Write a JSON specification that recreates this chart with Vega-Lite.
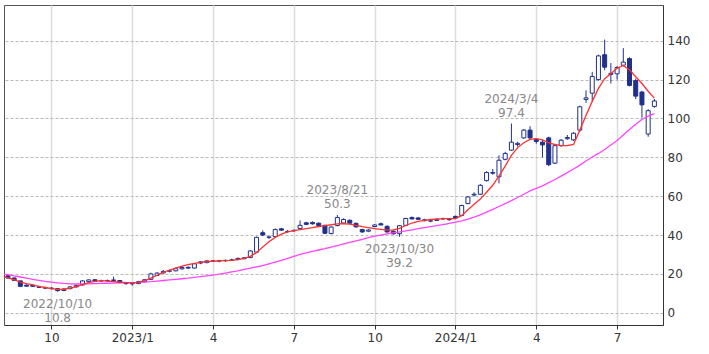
{
 "$schema": "https://vega.github.io/schema/vega-lite/v6.json",
 "width": 659,
 "height": 320,
 "autosize": {"type": "none"},
 "padding": {"left": 4, "top": 5, "right": 46, "bottom": 29},
 "background": "white",
 "config": {
  "font": "DejaVu Sans",
  "view": {"stroke": "#555", "strokeWidth": 1},
  "axis": {"labelFont": "DejaVu Sans", "labelFontSize": 12, "labelColor": "#333", "domainColor": "#333"}
 },
 "datasets": {
  "candles": [
   {"d":"2022-08-15","o":19.0,"h":19.4,"l":17.6,"c":17.9},
   {"d":"2022-08-22","o":17.9,"h":18.2,"l":16.4,"c":16.7},
   {"d":"2022-08-29","o":16.4,"h":16.6,"l":13.2,"c":13.6},
   {"d":"2022-09-05","o":14.2,"h":14.6,"l":13.4,"c":13.7},
   {"d":"2022-09-12","o":14.1,"h":14.5,"l":13.3,"c":13.6},
   {"d":"2022-09-19","o":13.3,"h":13.9,"l":12.7,"c":13.1},
   {"d":"2022-09-26","o":12.9,"h":13.4,"l":12.2,"c":12.7},
   {"d":"2022-10-03","o":12.7,"h":13.2,"l":12.0,"c":12.4},
   {"d":"2022-10-10","o":12.4,"h":12.6,"l":10.8,"c":11.4},
   {"d":"2022-10-17","o":12.2,"h":12.6,"l":11.1,"c":11.5},
   {"d":"2022-10-24","o":12.4,"h":13.6,"l":12.1,"c":13.3},
   {"d":"2022-10-31","o":13.3,"h":14.4,"l":13.0,"c":14.1},
   {"d":"2022-11-07","o":14.3,"h":16.8,"l":14.1,"c":16.4},
   {"d":"2022-11-14","o":16.0,"h":17.2,"l":15.8,"c":16.9},
   {"d":"2022-11-21","o":17.0,"h":17.2,"l":16.0,"c":16.3},
   {"d":"2022-11-28","o":16.4,"h":17.0,"l":16.0,"c":16.5},
   {"d":"2022-12-05","o":16.5,"h":17.1,"l":16.0,"c":16.6},
   {"d":"2022-12-12","o":16.6,"h":18.6,"l":16.3,"c":16.9},
   {"d":"2022-12-19","o":16.6,"h":16.8,"l":15.2,"c":15.5},
   {"d":"2022-12-26","o":15.4,"h":15.9,"l":14.4,"c":15.0},
   {"d":"2023-01-02","o":15.1,"h":15.5,"l":13.9,"c":14.9},
   {"d":"2023-01-09","o":15.0,"h":16.4,"l":14.8,"c":16.0},
   {"d":"2023-01-16","o":16.0,"h":17.3,"l":15.8,"c":17.0},
   {"d":"2023-01-23","o":17.2,"h":20.6,"l":17.0,"c":20.0},
   {"d":"2023-01-30","o":19.2,"h":20.9,"l":18.9,"c":20.4},
   {"d":"2023-02-06","o":20.5,"h":22.0,"l":20.2,"c":21.3},
   {"d":"2023-02-13","o":21.4,"h":22.2,"l":20.8,"c":21.6},
   {"d":"2023-02-20","o":21.6,"h":23.4,"l":21.3,"c":22.7},
   {"d":"2023-02-27","o":22.6,"h":23.8,"l":22.2,"c":23.3},
   {"d":"2023-03-06","o":23.4,"h":23.8,"l":22.6,"c":23.0},
   {"d":"2023-03-13","o":23.0,"h":25.6,"l":22.8,"c":25.2},
   {"d":"2023-03-20","o":26.2,"h":26.6,"l":25.0,"c":25.6},
   {"d":"2023-03-27","o":25.8,"h":27.0,"l":25.5,"c":26.7},
   {"d":"2023-04-03","o":26.7,"h":27.2,"l":26.1,"c":26.6},
   {"d":"2023-04-10","o":26.6,"h":27.2,"l":26.0,"c":26.8},
   {"d":"2023-04-17","o":26.8,"h":27.3,"l":26.2,"c":27.0},
   {"d":"2023-04-24","o":27.0,"h":27.8,"l":26.6,"c":27.2},
   {"d":"2023-05-01","o":27.4,"h":28.4,"l":27.0,"c":28.0},
   {"d":"2023-05-08","o":27.8,"h":28.7,"l":27.5,"c":28.3},
   {"d":"2023-05-15","o":28.4,"h":32.3,"l":28.1,"c":31.8},
   {"d":"2023-05-22","o":31.2,"h":39.2,"l":30.8,"c":38.8},
   {"d":"2023-05-29","o":41.2,"h":42.4,"l":39.4,"c":40.0},
   {"d":"2023-06-05","o":38.8,"h":39.8,"l":38.0,"c":39.0},
   {"d":"2023-06-12","o":39.2,"h":43.4,"l":38.9,"c":42.8},
   {"d":"2023-06-19","o":43.2,"h":43.7,"l":42.2,"c":42.5},
   {"d":"2023-06-26","o":41.9,"h":42.6,"l":41.2,"c":41.8},
   {"d":"2023-07-03","o":42.2,"h":42.9,"l":41.6,"c":42.4},
   {"d":"2023-07-10","o":43.4,"h":47.5,"l":43.1,"c":45.0},
   {"d":"2023-07-17","o":46.3,"h":46.8,"l":45.2,"c":45.5},
   {"d":"2023-07-24","o":46.5,"h":47.0,"l":45.4,"c":45.8},
   {"d":"2023-07-31","o":46.1,"h":46.5,"l":44.5,"c":44.9},
   {"d":"2023-08-07","o":45.0,"h":45.3,"l":40.5,"c":40.9},
   {"d":"2023-08-14","o":40.8,"h":44.5,"l":40.4,"c":44.1},
   {"d":"2023-08-21","o":44.9,"h":50.3,"l":44.5,"c":49.0},
   {"d":"2023-08-28","o":46.2,"h":48.6,"l":45.8,"c":48.0},
   {"d":"2023-09-04","o":47.6,"h":48.0,"l":45.8,"c":46.1},
   {"d":"2023-09-11","o":46.0,"h":46.4,"l":43.8,"c":44.2},
   {"d":"2023-09-18","o":42.8,"h":43.2,"l":41.2,"c":41.6},
   {"d":"2023-09-25","o":42.0,"h":43.0,"l":41.5,"c":42.6},
   {"d":"2023-10-02","o":44.4,"h":45.6,"l":44.0,"c":45.2},
   {"d":"2023-10-09","o":45.8,"h":46.4,"l":45.0,"c":45.2},
   {"d":"2023-10-16","o":44.5,"h":44.9,"l":41.2,"c":41.6},
   {"d":"2023-10-23","o":41.9,"h":42.2,"l":40.3,"c":40.6},
   {"d":"2023-10-30","o":40.7,"h":45.1,"l":39.2,"c":44.8},
   {"d":"2023-11-06","o":45.0,"h":48.9,"l":44.7,"c":48.5},
   {"d":"2023-11-13","o":49.0,"h":49.6,"l":48.0,"c":48.3},
   {"d":"2023-11-20","o":48.8,"h":49.3,"l":47.8,"c":48.1},
   {"d":"2023-11-27","o":47.8,"h":48.4,"l":47.0,"c":47.4},
   {"d":"2023-12-04","o":47.2,"h":47.9,"l":46.6,"c":47.3},
   {"d":"2023-12-11","o":47.5,"h":48.6,"l":47.2,"c":48.2},
   {"d":"2023-12-18","o":48.3,"h":49.0,"l":47.8,"c":48.5},
   {"d":"2023-12-25","o":48.0,"h":48.6,"l":47.4,"c":47.9},
   {"d":"2024-01-01","o":49.6,"h":50.0,"l":48.2,"c":48.8},
   {"d":"2024-01-08","o":50.1,"h":55.6,"l":49.8,"c":55.2},
   {"d":"2024-01-15","o":56.2,"h":60.0,"l":55.9,"c":59.6},
   {"d":"2024-01-22","o":60.6,"h":62.0,"l":59.8,"c":61.0},
   {"d":"2024-01-29","o":61.0,"h":66.2,"l":60.6,"c":65.6},
   {"d":"2024-02-05","o":68.0,"h":72.8,"l":67.5,"c":72.2},
   {"d":"2024-02-12","o":71.8,"h":74.0,"l":71.0,"c":72.2},
   {"d":"2024-02-19","o":70.0,"h":81.0,"l":66.6,"c":78.5},
   {"d":"2024-02-26","o":79.0,"h":82.8,"l":78.5,"c":82.0},
   {"d":"2024-03-04","o":83.7,"h":97.4,"l":83.4,"c":87.8},
   {"d":"2024-03-11","o":86.6,"h":88.0,"l":85.5,"c":87.2},
   {"d":"2024-03-18","o":90.0,"h":94.6,"l":89.6,"c":94.0},
   {"d":"2024-03-25","o":94.0,"h":96.0,"l":89.5,"c":90.0},
   {"d":"2024-04-01","o":89.2,"h":89.8,"l":87.0,"c":88.2},
   {"d":"2024-04-08","o":87.8,"h":89.0,"l":80.0,"c":86.4},
   {"d":"2024-04-15","o":90.0,"h":90.6,"l":75.5,"c":76.2},
   {"d":"2024-04-22","o":77.0,"h":86.4,"l":76.5,"c":86.0},
   {"d":"2024-04-29","o":86.0,"h":89.4,"l":85.5,"c":88.8},
   {"d":"2024-05-06","o":89.6,"h":91.5,"l":89.0,"c":90.2},
   {"d":"2024-05-13","o":89.0,"h":93.0,"l":88.4,"c":92.4},
   {"d":"2024-05-20","o":94.0,"h":106.6,"l":93.0,"c":106.0},
   {"d":"2024-05-27","o":109.8,"h":114.5,"l":108.0,"c":110.6},
   {"d":"2024-06-03","o":113.0,"h":124.0,"l":109.0,"c":121.6},
   {"d":"2024-06-10","o":120.0,"h":132.8,"l":119.5,"c":132.2},
   {"d":"2024-06-17","o":132.8,"h":140.6,"l":124.8,"c":126.4},
   {"d":"2024-06-24","o":122.6,"h":128.5,"l":118.0,"c":123.2},
   {"d":"2024-07-01","o":123.0,"h":127.0,"l":120.0,"c":126.2},
   {"d":"2024-07-08","o":127.4,"h":136.2,"l":126.8,"c":129.0},
   {"d":"2024-07-15","o":130.8,"h":131.5,"l":116.5,"c":117.0},
   {"d":"2024-07-22","o":119.5,"h":120.5,"l":110.0,"c":111.5},
   {"d":"2024-07-29","o":113.6,"h":114.2,"l":100.4,"c":107.0},
   {"d":"2024-08-05","o":92.0,"h":104.8,"l":90.6,"c":104.0},
   {"d":"2024-08-12","o":106.2,"h":110.0,"l":105.5,"c":109.0}
  ],
  "ma": [
   {"d":"2022-08-08","m13":18.8,"m26":20.1},
   {"d":"2022-08-15","m13":18.0,"m26":19.6},
   {"d":"2022-08-22","m13":17.0,"m26":19.0},
   {"d":"2022-08-29","m13":15.8,"m26":18.4},
   {"d":"2022-09-05","m13":15.0,"m26":17.8},
   {"d":"2022-09-12","m13":14.3,"m26":17.2},
   {"d":"2022-09-19","m13":13.6,"m26":16.7},
   {"d":"2022-09-26","m13":13.0,"m26":16.2},
   {"d":"2022-10-03","m13":12.4,"m26":15.8},
   {"d":"2022-10-10","m13":12.0,"m26":15.4},
   {"d":"2022-10-17","m13":12.1,"m26":15.1},
   {"d":"2022-10-24","m13":12.7,"m26":14.9},
   {"d":"2022-10-31","m13":13.5,"m26":14.8},
   {"d":"2022-11-07","m13":14.5,"m26":14.8},
   {"d":"2022-11-14","m13":15.5,"m26":14.9},
   {"d":"2022-11-21","m13":16.2,"m26":15.0},
   {"d":"2022-11-28","m13":16.5,"m26":15.1},
   {"d":"2022-12-05","m13":16.3,"m26":15.2},
   {"d":"2022-12-12","m13":16.0,"m26":15.3},
   {"d":"2022-12-19","m13":15.7,"m26":15.4},
   {"d":"2022-12-26","m13":15.5,"m26":15.5},
   {"d":"2023-01-02","m13":15.4,"m26":15.5},
   {"d":"2023-01-09","m13":15.6,"m26":15.6},
   {"d":"2023-01-16","m13":16.6,"m26":15.8},
   {"d":"2023-01-23","m13":17.8,"m26":16.0},
   {"d":"2023-01-30","m13":19.3,"m26":16.3},
   {"d":"2023-02-06","m13":20.8,"m26":16.6},
   {"d":"2023-02-13","m13":22.0,"m26":16.9},
   {"d":"2023-02-20","m13":23.0,"m26":17.2},
   {"d":"2023-02-27","m13":24.0,"m26":17.5},
   {"d":"2023-03-06","m13":24.8,"m26":17.8},
   {"d":"2023-03-13","m13":25.4,"m26":18.2},
   {"d":"2023-03-20","m13":25.9,"m26":18.6},
   {"d":"2023-03-27","m13":26.3,"m26":19.0},
   {"d":"2023-04-03","m13":26.5,"m26":19.4},
   {"d":"2023-04-10","m13":26.7,"m26":19.9},
   {"d":"2023-04-17","m13":26.8,"m26":20.4},
   {"d":"2023-04-24","m13":27.0,"m26":21.0},
   {"d":"2023-05-01","m13":27.4,"m26":21.6},
   {"d":"2023-05-08","m13":28.0,"m26":22.3},
   {"d":"2023-05-15","m13":29.0,"m26":23.0},
   {"d":"2023-05-22","m13":31.0,"m26":23.6},
   {"d":"2023-05-29","m13":33.8,"m26":24.2},
   {"d":"2023-06-05","m13":36.5,"m26":25.1},
   {"d":"2023-06-12","m13":38.8,"m26":26.0},
   {"d":"2023-06-19","m13":40.5,"m26":27.0},
   {"d":"2023-06-26","m13":41.6,"m26":28.0},
   {"d":"2023-07-03","m13":42.3,"m26":29.0},
   {"d":"2023-07-10","m13":42.8,"m26":30.0},
   {"d":"2023-07-17","m13":43.3,"m26":30.8},
   {"d":"2023-07-24","m13":43.8,"m26":31.6},
   {"d":"2023-07-31","m13":44.4,"m26":32.3},
   {"d":"2023-08-07","m13":44.9,"m26":33.0},
   {"d":"2023-08-14","m13":45.3,"m26":33.8},
   {"d":"2023-08-21","m13":45.7,"m26":34.6},
   {"d":"2023-08-28","m13":45.8,"m26":35.4},
   {"d":"2023-09-04","m13":45.6,"m26":36.2},
   {"d":"2023-09-11","m13":45.0,"m26":37.0},
   {"d":"2023-09-18","m13":44.3,"m26":37.8},
   {"d":"2023-09-25","m13":43.8,"m26":38.7},
   {"d":"2023-10-02","m13":43.3,"m26":39.4},
   {"d":"2023-10-09","m13":42.9,"m26":40.0},
   {"d":"2023-10-16","m13":42.5,"m26":40.6},
   {"d":"2023-10-23","m13":42.6,"m26":41.1},
   {"d":"2023-10-30","m13":43.4,"m26":41.6},
   {"d":"2023-11-06","m13":44.9,"m26":42.2},
   {"d":"2023-11-13","m13":46.2,"m26":42.7},
   {"d":"2023-11-20","m13":47.0,"m26":43.3},
   {"d":"2023-11-27","m13":47.6,"m26":43.8},
   {"d":"2023-12-04","m13":48.0,"m26":44.3},
   {"d":"2023-12-11","m13":48.2,"m26":44.8},
   {"d":"2023-12-18","m13":48.4,"m26":45.4},
   {"d":"2023-12-25","m13":48.4,"m26":46.0},
   {"d":"2024-01-01","m13":48.5,"m26":46.6},
   {"d":"2024-01-08","m13":50.0,"m26":47.3},
   {"d":"2024-01-15","m13":53.0,"m26":48.2},
   {"d":"2024-01-22","m13":55.8,"m26":49.2},
   {"d":"2024-01-29","m13":58.5,"m26":50.4},
   {"d":"2024-02-05","m13":62.0,"m26":51.8},
   {"d":"2024-02-12","m13":65.6,"m26":53.2},
   {"d":"2024-02-19","m13":70.5,"m26":54.7},
   {"d":"2024-02-26","m13":75.5,"m26":56.2},
   {"d":"2024-03-04","m13":81.0,"m26":57.7},
   {"d":"2024-03-11","m13":85.0,"m26":59.3},
   {"d":"2024-03-18","m13":87.5,"m26":61.0},
   {"d":"2024-03-25","m13":89.2,"m26":62.7},
   {"d":"2024-04-01","m13":89.6,"m26":64.0},
   {"d":"2024-04-08","m13":89.0,"m26":65.3},
   {"d":"2024-04-15","m13":87.6,"m26":67.0},
   {"d":"2024-04-22","m13":86.6,"m26":68.6},
   {"d":"2024-04-29","m13":86.0,"m26":70.3},
   {"d":"2024-05-06","m13":86.0,"m26":72.1},
   {"d":"2024-05-13","m13":86.6,"m26":74.0},
   {"d":"2024-05-20","m13":94.0,"m26":76.0},
   {"d":"2024-05-27","m13":101.5,"m26":78.1},
   {"d":"2024-06-03","m13":108.8,"m26":80.2},
   {"d":"2024-06-10","m13":115.5,"m26":82.0},
   {"d":"2024-06-17","m13":120.5,"m26":84.0},
   {"d":"2024-06-24","m13":123.0,"m26":86.3},
   {"d":"2024-07-01","m13":125.8,"m26":88.7},
   {"d":"2024-07-08","m13":127.3,"m26":91.5},
   {"d":"2024-07-15","m13":125.0,"m26":94.3},
   {"d":"2024-07-22","m13":121.5,"m26":97.0},
   {"d":"2024-07-29","m13":118.0,"m26":99.5},
   {"d":"2024-08-05","m13":114.0,"m26":101.2},
   {"d":"2024-08-12","m13":110.5,"m26":102.5}
  ],
  "notes": [
   {"d":"2022-10-10","v":10.8,"t":"2022/10/10\n10.8","p":"lo"},
   {"d":"2023-08-21","v":50.3,"t":"2023/8/21\n50.3","p":"hi"},
   {"d":"2023-10-30","v":39.2,"t":"2023/10/30\n39.2","p":"lo"},
   {"d":"2024-03-04","v":97.4,"t":"2024/3/4\n97.4","p":"hi"}
  ]
 },
 "layer": [
  {
   "data": {"name": "candles"},
   "mark": {"type": "rule", "color": "#20308c", "strokeWidth": 1},
   "encoding": {
    "x": {"field": "d", "type": "temporal", "title": null,
     "scale": {"type": "utc", "padding": 0, "domain": [{"year":2022,"month":8,"date":10,"hours":14,"utc":true},{"year":2024,"month":8,"date":21,"hours":17,"utc":true}]},
     "axis": {"values": [{"year":2022,"month":10,"date":3,"utc":true},{"year":2023,"month":1,"date":2,"utc":true},{"year":2023,"month":4,"date":3,"utc":true},{"year":2023,"month":7,"date":3,"utc":true},{"year":2023,"month":10,"date":2,"utc":true},{"year":2024,"month":1,"date":1,"utc":true},{"year":2024,"month":4,"date":1,"utc":true},{"year":2024,"month":7,"date":1,"utc":true}],
      "labelExpr": "utcmonth(datum.value) == 0 ? utcyear(datum.value) + '/1' : '' + (utcmonth(datum.value) + 1)",
      "grid": true, "gridColor": "#dcdcdc", "gridWidth": 1.5, "tickColor": "#333", "tickSize": 4, "labelPadding": 3, "labelFlush": false, "labelOverlap": false}},
    "y": {"field": "l", "type": "quantitative", "title": null,
     "scale": {"domain": [-6.3, 158.4], "nice": false, "zero": false, "padding": 0},
     "axis": {"orient": "right", "values": [0,20,40,60,80,100,120,140], "grid": true, "gridColor": "#b8b8b8", "gridDash": [3,2], "ticks": false, "labelPadding": 4}},
    "y2": {"field": "h"}
   }
  },
  {
   "data": {"name": "candles"},
   "mark": {"type": "bar", "size": 4, "stroke": "#20308c", "strokeWidth": 1},
   "encoding": {
    "x": {"field": "d", "type": "temporal"},
    "y": {"field": "o", "type": "quantitative", "title": null},
    "y2": {"field": "c"},
    "fill": {"condition": {"test": "datum.c > datum.o", "value": "white"}, "value": "#20308c"}
   }
  },
  {
   "data": {"name": "ma"},
   "mark": {"type": "line", "color": "#ff44ff", "strokeWidth": 1.3, "clip": true},
   "encoding": {
    "x": {"field": "d", "type": "temporal"},
    "y": {"field": "m26", "type": "quantitative", "title": null}
   }
  },
  {
   "data": {"name": "ma"},
   "mark": {"type": "line", "color": "#ff3030", "strokeWidth": 1.3, "clip": true},
   "encoding": {
    "x": {"field": "d", "type": "temporal"},
    "y": {"field": "m13", "type": "quantitative", "title": null}
   }
  },
  {
   "data": {"name": "notes"},
   "transform": [{"filter": "datum.p == 'hi'"}],
   "mark": {"type": "text", "baseline": "bottom", "dy": -18, "lineBreak": "\n", "lineHeight": 14, "fontSize": 12, "font": "DejaVu Sans", "color": "#888"},
   "encoding": {
    "x": {"field": "d", "type": "temporal"},
    "y": {"field": "v", "type": "quantitative", "title": null},
    "text": {"field": "t"}
   }
  },
  {
   "data": {"name": "notes"},
   "transform": [{"filter": "datum.p == 'lo'"}],
   "mark": {"type": "text", "baseline": "top", "dy": 7, "lineBreak": "\n", "lineHeight": 14, "fontSize": 12, "font": "DejaVu Sans", "color": "#888"},
   "encoding": {
    "x": {"field": "d", "type": "temporal"},
    "y": {"field": "v", "type": "quantitative", "title": null},
    "text": {"field": "t"}
   }
  }
 ]
}
